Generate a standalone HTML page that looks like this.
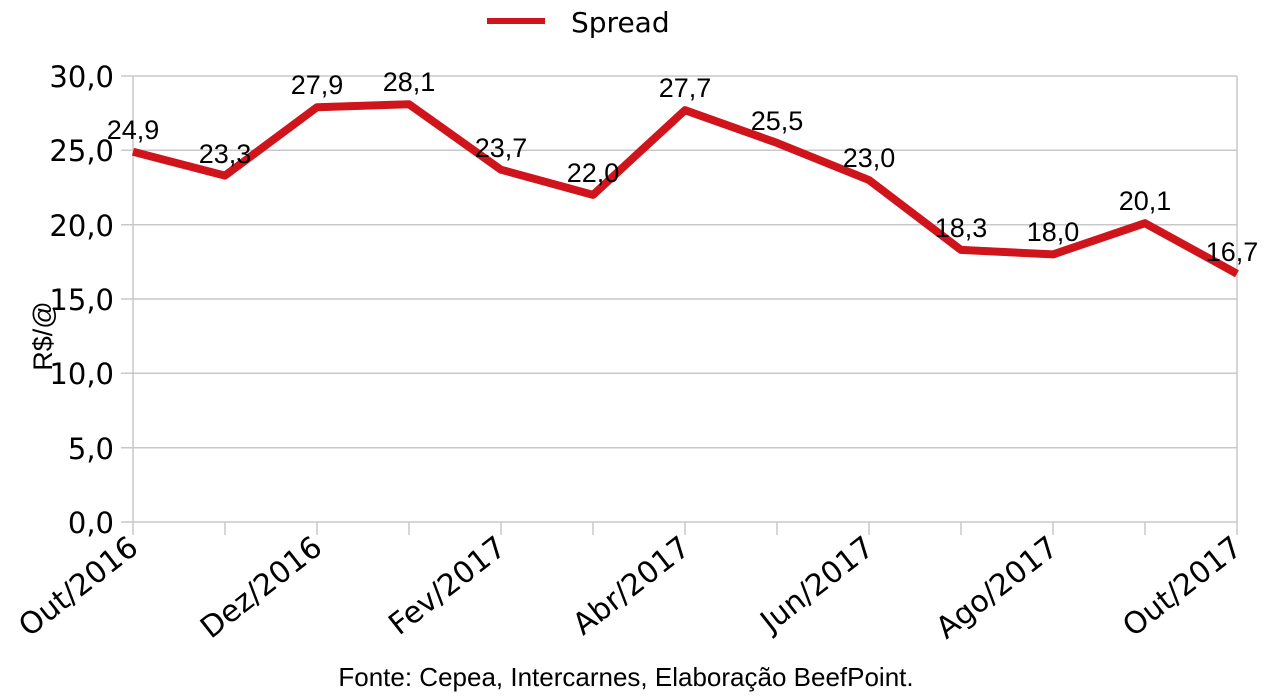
<!DOCTYPE html>
<html><head><meta charset="utf-8"><style>body{margin:0;background:#fff}svg{display:block}</style></head><body>
<svg width="1276" height="696" xmlns="http://www.w3.org/2000/svg">
<g stroke="#c8c8c8" stroke-width="1.5">
<line x1="121" y1="76" x2="1237" y2="76"/><line x1="121" y1="150.3" x2="1237" y2="150.3"/><line x1="121" y1="224.7" x2="1237" y2="224.7"/><line x1="121" y1="299" x2="1237" y2="299"/><line x1="121" y1="373.3" x2="1237" y2="373.3"/><line x1="121" y1="447.7" x2="1237" y2="447.7"/><line x1="121" y1="522" x2="1237" y2="522"/>
<line x1="133" y1="76" x2="133" y2="535"/>
<line x1="225" y1="522" x2="225" y2="535"/><line x1="317" y1="522" x2="317" y2="535"/><line x1="409" y1="522" x2="409" y2="535"/><line x1="501" y1="522" x2="501" y2="535"/><line x1="593" y1="522" x2="593" y2="535"/><line x1="685" y1="522" x2="685" y2="535"/><line x1="777" y1="522" x2="777" y2="535"/><line x1="869" y1="522" x2="869" y2="535"/><line x1="961" y1="522" x2="961" y2="535"/><line x1="1053" y1="522" x2="1053" y2="535"/><line x1="1145" y1="522" x2="1145" y2="535"/><line x1="1237" y1="76" x2="1237" y2="535"/>
</g>
<g font-family="DejaVu Sans, sans-serif" font-size="29" text-anchor="end" fill="#000">
<text x="114" y="87">30,0</text><text x="114" y="161">25,0</text><text x="114" y="236">20,0</text><text x="114" y="310">15,0</text><text x="114" y="384">10,0</text><text x="114" y="459">5,0</text><text x="114" y="533">0,0</text>
</g>
<g font-family="DejaVu Sans, sans-serif" font-size="30" text-anchor="end" fill="#000">
<text transform="translate(140,551) rotate(-38)">Out/2016</text>
<text transform="translate(324,551) rotate(-38)">Dez/2016</text>
<text transform="translate(508,551) rotate(-38)">Fev/2017</text>
<text transform="translate(692,551) rotate(-38)">Abr/2017</text>
<text transform="translate(876,551) rotate(-38)">Jun/2017</text>
<text transform="translate(1060,551) rotate(-38)">Ago/2017</text>
<text transform="translate(1244,551) rotate(-38)">Out/2017</text>
</g>
<polyline fill="none" stroke="#d0141b" stroke-width="8" stroke-linejoin="round" points="133,151.8 225,175.6 317,107.2 409,104.2 501,169.7 593,194.9 685,110.2 777,142.9 869,180.1 961,249.9 1053,254.4 1145,223.2 1237,273.7"/>
<g font-family="Liberation Sans, Arial, sans-serif" font-size="27" text-anchor="middle" fill="#000">
<text x="133" y="139">24,9</text><text x="225" y="163">23,3</text><text x="317" y="94">27,9</text><text x="409" y="91">28,1</text><text x="501" y="157">23,7</text><text x="593" y="182">22,0</text><text x="685" y="97">27,7</text><text x="777" y="130">25,5</text><text x="869" y="167">23,0</text><text x="961" y="237">18,3</text><text x="1053" y="241">18,0</text><text x="1145" y="210">20,1</text><text x="1232" y="261">16,7</text>
</g>
<text transform="translate(52,336) rotate(-90)" font-family="Liberation Sans, Arial, sans-serif" font-size="27" text-anchor="middle">R$/@</text>
<line x1="487" y1="21" x2="545" y2="21" stroke="#d0141b" stroke-width="6"/>
<text x="571" y="32" font-family="DejaVu Sans, sans-serif" font-size="28">Spread</text>
<text x="626" y="686" font-family="Liberation Sans, Arial, sans-serif" font-size="26" text-anchor="middle">Fonte: Cepea, Intercarnes, Elaboração BeefPoint.</text>
</svg>
</body></html>
